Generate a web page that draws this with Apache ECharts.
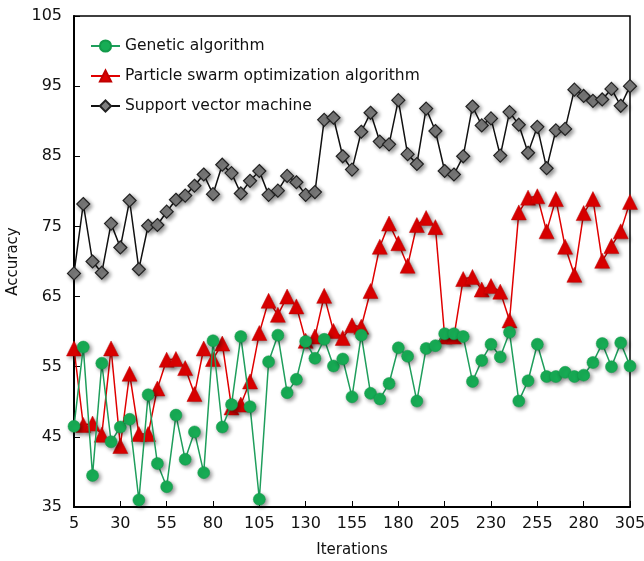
<!DOCTYPE html>
<html>
<head>
<meta charset="utf-8">
<script src="https://cdn.jsdelivr.net/npm/echarts@6/dist/echarts.min.js"></script>
<style>
  html, body { margin: 0; padding: 0; background: #fff; }
  #chart { width: 644px; height: 561px; }
</style>
</head>
<body>
<div id="chart"></div>
<script>
const iterations = [5, 10, 15, 20, 25, 30, 35, 40, 45, 50, 55, 60, 65, 70, 75, 80, 85, 90, 95, 100,
  105, 110, 115, 120, 125, 130, 135, 140, 145, 150, 155, 160, 165, 170, 175, 180, 185, 190, 195, 200,
  205, 210, 215, 220, 225, 230, 235, 240, 245, 250, 255, 260, 265, 270, 275, 280, 285, 290, 295, 300, 305]

const genetic = [46.5, 57.8, 39.5, 55.5, 44.3, 46.4, 47.5, 36.0, 51.0, 41.2, 37.9, 48.1, 41.8, 45.7, 39.9, 58.7, 46.4, 49.6, 59.3, 49.3,
  36.1, 55.7, 59.5, 51.3, 53.2, 58.6, 56.2, 58.9, 55.1, 56.1, 50.7, 59.5, 51.2, 50.4, 52.6, 57.7, 56.5, 50.1, 57.6, 58.0,
  59.7, 59.7, 59.3, 52.9, 55.9, 58.2, 56.4, 59.9, 50.1, 53.0, 58.2, 53.6, 53.6, 54.2, 53.6, 53.8, 55.6, 58.3, 55.0, 58.4, 55.1]

const pso = [57.6, 46.7, 46.9, 45.3, 57.6, 43.7, 54.0, 45.4, 45.4, 51.9, 56.0, 56.1, 54.8, 51.1, 57.6, 56.1, 58.3, 49.2, 49.6, 52.9,
  59.8, 64.4, 62.4, 65.0, 63.6, 58.7, 59.3, 65.1, 60.1, 59.1, 60.9, 60.7, 65.8, 72.1, 75.4, 72.6, 69.4, 75.2, 76.2, 74.9,
  59.3, 59.3, 67.5, 67.8, 66.0, 66.5, 65.7, 61.6, 77.0, 79.1, 79.3, 74.3, 78.9, 72.1, 68.1, 76.9, 78.9, 70.1, 72.2, 74.3, 78.5]

const svm = [68.3, 78.2, 70.0, 68.4, 75.4, 72.0, 78.7, 68.9, 75.1, 75.2, 77.1, 78.8, 79.4, 80.8, 82.4, 79.6, 83.8, 82.6, 79.7, 81.5,
  82.9, 79.5, 80.1, 82.2, 81.3, 79.5, 79.9, 90.2, 90.5, 85.0, 83.1, 88.5, 91.2, 87.1, 86.7, 93.0, 85.3, 83.9, 91.8, 88.6,
  82.9, 82.4, 85.0, 92.1, 89.4, 90.4, 85.1, 91.3, 89.5, 85.5, 89.2, 83.3, 88.7, 88.9, 94.5, 93.6, 92.9, 93.1, 94.6, 92.2, 95.0]

const yTicks = [35, 45, 55, 65, 75, 85, 95, 105]

const chart = echarts.init(document.getElementById('chart'))
const font = 'DejaVu Sans, Verdana, sans-serif'
const shadow = { shadowColor: 'rgba(0,0,0,0.45)', shadowBlur: 4, shadowOffsetX: 2, shadowOffsetY: 2 }

chart.setOption({
  animation: false,
  textStyle: { fontFamily: font },
  grid: {
    left: 74, right: 14, top: 16, bottom: 54,
    outerBoundsMode: 'none',
    containLabel: false,
    show: true, borderColor: '#000', borderWidth: 1.5
  },
  legend: {
    orient: 'vertical',
    left: 85,
    top: 33,
    itemWidth: 29,
    itemHeight: 14,
    itemGap: 14,
    textStyle: { fontSize: 15.5, color: '#111', fontFamily: font },
    data: ['Genetic algorithm', 'Particle swarm optimization algorithm', 'Support vector machine']
  },
  xAxis: {
    type: 'category',
    data: iterations.map(String),
    boundaryGap: false,
    name: 'Iterations',
    nameLocation: 'middle',
    nameGap: 36,
    nameTextStyle: { fontSize: 15, color: '#111' },
    axisLine: { lineStyle: { color: '#000', width: 2 } },
    axisTick: { inside: true, length: 6, interval: 4, lineStyle: { color: '#000' } },
    axisLabel: { interval: 4, fontSize: 16, color: '#111', margin: 9 },
    splitLine: { show: false }
  },
  yAxis: {
    type: 'value',
    min: yTicks[0],
    max: yTicks[yTicks.length - 1],
    interval: 10,
    name: 'Accuracy',
    nameLocation: 'middle',
    nameGap: 46,
    nameTextStyle: { fontSize: 15, color: '#111' },
    axisLine: { show: true, lineStyle: { color: '#000', width: 2 } },
    axisTick: { show: true, inside: true, length: 6, lineStyle: { color: '#000' } },
    axisLabel: { fontSize: 16, color: '#111', margin: 12 },
    splitLine: { show: false }
  },
  series: [
    {
      name: 'Support vector machine',
      type: 'line',
      data: svm,
      showAllSymbol: true,
      symbol: 'diamond',
      symbolSize: 13,
      lineStyle: { color: '#111', width: 1.5 },
      itemStyle: Object.assign({ color: '#7f7f7f', borderColor: '#222', borderWidth: 1.2 }, shadow),
      z: 3
    },
    {
      name: 'Particle swarm optimization algorithm',
      type: 'line',
      data: pso,
      showAllSymbol: true,
      symbol: 'triangle',
      symbolSize: 15,
      lineStyle: { color: '#e00000', width: 1.5 },
      itemStyle: Object.assign({ color: '#dd0000', borderColor: '#c00000', borderWidth: 0.5 }, shadow),
      z: 4
    },
    {
      name: 'Genetic algorithm',
      type: 'line',
      data: genetic,
      showAllSymbol: true,
      symbol: 'circle',
      symbolSize: 12,
      lineStyle: { color: '#1f9e5c', width: 1.5 },
      itemStyle: Object.assign({ color: '#17ad55', borderColor: '#139a4a', borderWidth: 0.5 }, shadow),
      z: 5
    }
  ]
})
</script>
</body>
</html>
